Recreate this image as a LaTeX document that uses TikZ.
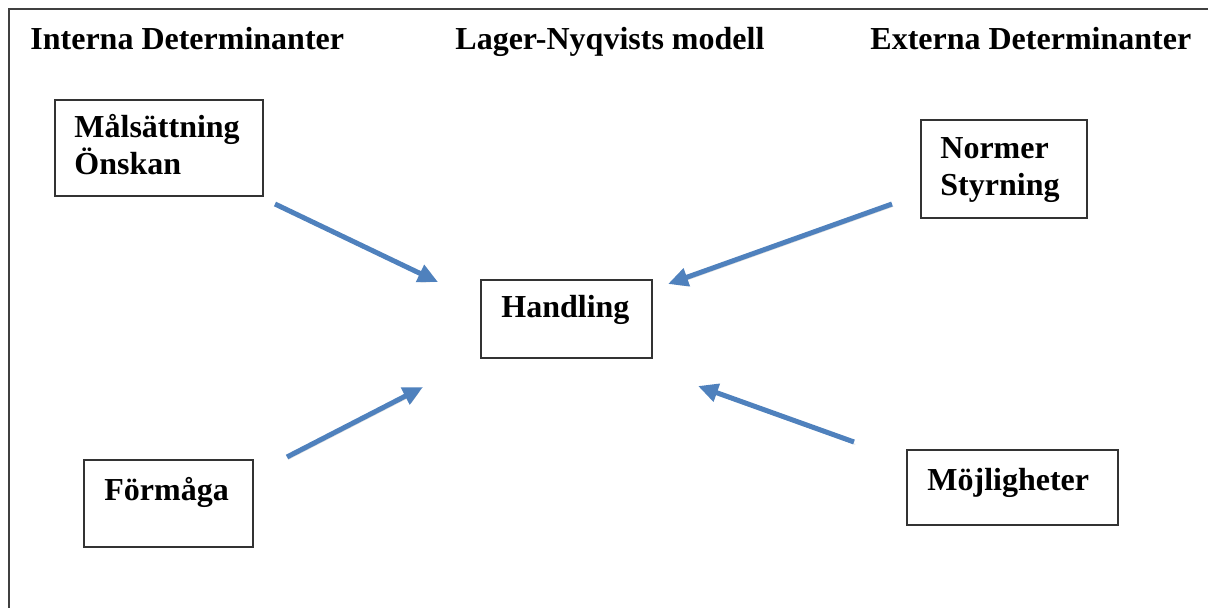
\documentclass[tikz,border=0pt]{standalone}
\usepackage{fontspec}
\setmainfont{Liberation Serif}
\usetikzlibrary{positioning,arrows.meta}
\definecolor{arrowblue}{HTML}{4F81BD}
\newcommand{\PX}{0.5pt}
\newcommand{\TITLEY}{50}
\newcommand{\FRAMEX}{9}
\newcommand{\FRAMEY}{9}

\begin{document}
\begin{tikzpicture}[x=\PX,y=-\PX]
\tikzstyle{every node}=[font=\fontsize{16}{18.5}\selectfont\bfseries]
\tikzstyle{box}=[draw=black!80, line width=1pt, inner sep=0pt, anchor=north west]
\tikzstyle{lbl}=[inner sep=0pt, anchor=base west, align=left]
\tikzstyle{arrow}=[draw=arrowblue, line width=2.5pt, -{Triangle[length=10pt,width=9pt]},
  preaction={draw=black!30, opacity=0.45, transform canvas={xshift=0.6pt,yshift=-1.2pt}}]
\useasboundingbox (0,0) rectangle (1208,608);

% Frame
	\draw[draw=black!75, line width=1pt] ({\FRAMEX},{\FRAMEY}) rectangle (1240,640);

% Titles
	\node[lbl] (interna) at (30,\TITLEY) {Interna Determinanter};
	\node[lbl] (modell) at (455,\TITLEY) {Lager-Nyqvists modell};
	\node[lbl] (externa) at (870,\TITLEY) {Externa Determinanter};

% Boxes
	\node[box, minimum width=208*\PX, minimum height=96*\PX] (malbox) at (54,99) {};
	\node[lbl] (maltxt) at (74,175) {Målsättning\\Önskan};

	\node[box, minimum width=166*\PX, minimum height=98*\PX] (normbox) at (920,119) {};
	\node[lbl] (normtxt) at (940,196) {Normer\\Styrning};

	\node[box, minimum width=171*\PX, minimum height=78*\PX] (handbox) at (480,279) {};
	\node[lbl] (handtxt) at (501,318) {Handling};

	\node[box, minimum width=169*\PX, minimum height=87*\PX] (formbox) at (83,459) {};
	\node[lbl] (formtxt) at (104,500) {Förmåga};

	\node[box, minimum width=211*\PX, minimum height=75*\PX] (mojbox) at (906,449) {};
	\node[lbl] (mojtxt) at (927,490) {Möjligheter};

% Arrow ends
	\coordinate (malout) at (275,204);
	\coordinate (handin1) at (438,282);
	\coordinate (normout) at (892,204);
	\coordinate (handin2) at (668,284);
	\coordinate (formout) at (287,457);
	\coordinate (handin3) at (423,387);
	\coordinate (mojout) at (854,442);
	\coordinate (handin4) at (698,386);

% Arrows
	\draw[arrow] (malout) -- (handin1);
	\draw[arrow] (normout) -- (handin2);
	\draw[arrow] (formout) -- (handin3);
	\draw[arrow] (mojout) -- (handin4);

\end{tikzpicture}
\end{document}
